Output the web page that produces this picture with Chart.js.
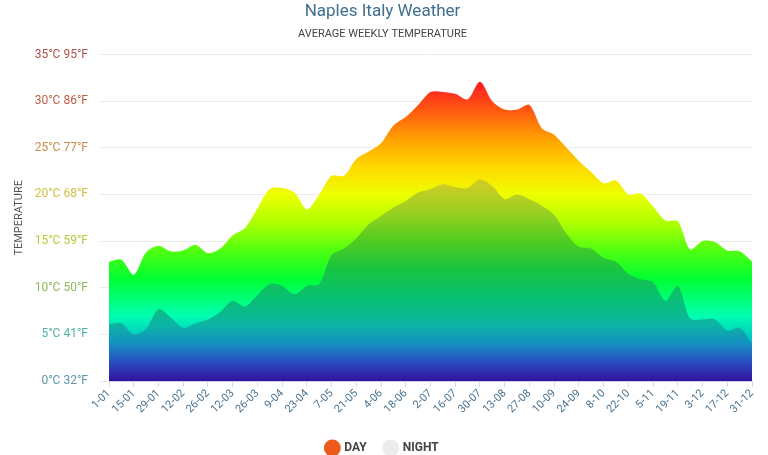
<!DOCTYPE html>
<html>
<head>
<meta charset="utf-8">
<script src="https://cdn.jsdelivr.net/npm/chart.js@4"></script>
<style>
  html, body { margin: 0; padding: 0; background: #fff; }
  #wrap { width: 768px; height: 455px; }
</style>
</head>
<body>
<div id="wrap"><canvas id="tempChart" width="768" height="455"></canvas></div>
<script>
// weekly dates, one label shown every two weeks
const weeks = ['1-01','8-01','15-01','22-01','29-01','5-02','12-02','19-02','26-02','5-03',
  '12-03','19-03','26-03','2-04','9-04','16-04','23-04','30-04','7-05','14-05',
  '21-05','28-05','4-06','11-06','18-06','25-06','2-07','9-07','16-07','23-07',
  '30-07','6-08','13-08','20-08','27-08','3-09','10-09','17-09','24-09','1-10',
  '8-10','15-10','22-10','29-10','5-11','12-11','19-11','26-11','3-12','10-12',
  '17-12','24-12','31-12'];

const dayTemps = [12.8, 13.0, 11.4, 13.8, 14.5, 13.9, 14.0, 14.6, 13.7, 14.2,
  15.6, 16.4, 18.5, 20.6, 20.7, 20.2, 18.4, 20.0, 22.0, 22.0,
  23.8, 24.6, 25.5, 27.4, 28.3, 29.6, 31.0, 31.0, 30.8, 30.2,
  32.1, 30.0, 29.1, 29.1, 29.6, 27.1, 26.4, 25.0, 23.6, 22.4,
  21.2, 21.5, 20.0, 20.1, 18.7, 17.2, 17.1, 14.1, 15.0, 14.9,
  14.0, 13.9, 12.8];

const nightTemps = [6.1, 6.2, 5.0, 5.6, 7.7, 6.8, 5.7, 6.2, 6.6, 7.4,
  8.6, 8.0, 9.2, 10.4, 10.2, 9.3, 10.2, 10.4, 13.5, 14.2,
  15.3, 16.8, 17.7, 18.6, 19.3, 20.2, 20.6, 21.1, 20.8, 20.7,
  21.6, 20.9, 19.5, 20.0, 19.5, 18.8, 17.8, 15.8, 14.4, 14.2,
  13.2, 12.8, 11.5, 10.9, 10.6, 8.6, 10.2, 6.7, 6.6, 6.6,
  5.4, 5.7, 4.0];

const yTicks = [0, 5, 10, 15, 20, 25, 30, 35];
const yTickColors = ['#5c97a8', '#4fb3a3', '#8fb85a', '#b7cc3a', '#cfc23e', '#c98a4a', '#bd5c45', '#b24e45'];

const dayStops = [
  [0, '#2a14a8'], [4, '#00b8c8'], [7, '#00ffb0'], [11, '#00ff30'], [14, '#50ff10'],
  [17, '#b0ff00'], [20, '#eeff00'], [23, '#ffd800'], [26, '#ffa000'], [29, '#ff5a10'],
  [32, '#ff1a22'], [35, '#ff0020']
];
const nightStops = [
  [0, '#3212a0'], [2, '#2a4cc0'], [4, '#1490c0'], [6, '#0cb4a4'], [9, '#08c070'],
  [12, '#18c440'], [15, '#50cc20'], [18, '#98d020'], [21, '#cccc24'], [24, '#d8c020'], [35, '#d8c020']
];

function makeGradient(stops) {
  return (context) => {
    const chart = context.chart;
    const area = chart.chartArea;
    if (!area) return null;
    const y = chart.scales.y;
    const y0 = y.getPixelForValue(0);
    const y1 = y.getPixelForValue(35);
    const g = chart.ctx.createLinearGradient(0, y0, 0, y1);
    stops.forEach(s => g.addColorStop(s[0] / 35, s[1]));
    return g;
  };
}

const legendColors = ['#ec5a1c', '#ececec'];

const ctx = document.getElementById('tempChart').getContext('2d');

new Chart(ctx, {
  type: 'line',
  data: {
    labels: weeks,
    datasets: [{
      label: 'DAY',
      data: dayTemps,
      backgroundColor: makeGradient(dayStops),
      borderWidth: 0,
      fill: 'origin',
      pointRadius: 0,
      tension: 0.3,
      order: 1
    }, {
      label: 'NIGHT',
      data: nightTemps,
      backgroundColor: makeGradient(nightStops),
      borderWidth: 0,
      fill: 'origin',
      pointRadius: 0,
      tension: 0.3,
      order: 0
    }]
  },
  options: {
    responsive: false,
    animation: false,
    layout: { padding: { left: 13, right: 16, top: 2, bottom: -9 } },
    plugins: {
      title: {
        display: true,
        text: 'Naples Italy Weather',
        color: '#3e6f8e',
        font: { family: 'Roboto', size: 17, weight: 'normal' },
        padding: { top: 0, bottom: 5 }
      },
      subtitle: {
        display: true,
        text: 'AVERAGE WEEKLY TEMPERATURE',
        color: '#444',
        font: { family: 'Roboto', size: 11 },
        padding: { top: 0, bottom: 14 }
      },
      legend: {
        position: 'bottom',
        labels: {
          usePointStyle: true,
          pointStyle: 'circle',
          boxWidth: 13,
          boxHeight: 13,
          padding: 18,
          color: '#444',
          font: { family: 'Roboto', size: 12, weight: 'bold' },
          sort: (a, b) => a.datasetIndex - b.datasetIndex,
          generateLabels: (chart) => {
            const items = Chart.defaults.plugins.legend.labels.generateLabels(chart);
            items.forEach(it => {
              it.fillStyle = legendColors[it.datasetIndex];
              it.strokeStyle = legendColors[it.datasetIndex];
              it.lineWidth = 0;
            });
            return items;
          }
        }
      },
      tooltip: { enabled: false }
    },
    scales: {
      x: {
        offset: false,
        afterFit: (scale) => { scale.height = 43; },
        grid: {
          drawOnChartArea: false,
          tickLength: 6,
          tickColor: (c) => (c.index % 2 === 0 ? '#d4dce6' : 'rgba(0,0,0,0)')
        },
        border: { color: '#c8d4e4' },
        ticks: {
          autoSkip: false,
          maxRotation: 45,
          minRotation: 45,
          color: '#4a7391',
          font: { family: 'Roboto', size: 11 },
          padding: 0,
          callback: function (value, index) {
            return index % 2 === 0 ? this.getLabelForValue(value) : '';
          }
        }
      },
      y: {
        min: 0,
        max: 35,
        afterFit: (scale) => { scale.width = 96; },
        grid: { color: '#ececec', tickLength: 9, tickColor: '#ececec' },
        border: { display: false },
        title: {
          display: true,
          text: 'TEMPERATURE',
          color: '#555',
          font: { family: 'Roboto', size: 11 },
          padding: { top: 0, bottom: 4 }
        },
        afterBuildTicks: (scale) => {
          scale.ticks = yTicks.map(v => ({ value: v }));
        },
        ticks: {
          padding: 12,
          font: { family: 'Roboto', size: 12 },
          color: (c) => yTickColors[yTicks.indexOf(c.tick.value)] || '#888',
          callback: (v) => `${v}°C ${Math.round(v * 9 / 5 + 32)}°F`
        }
      }
    }
  }
});
</script>
</body>
</html>
